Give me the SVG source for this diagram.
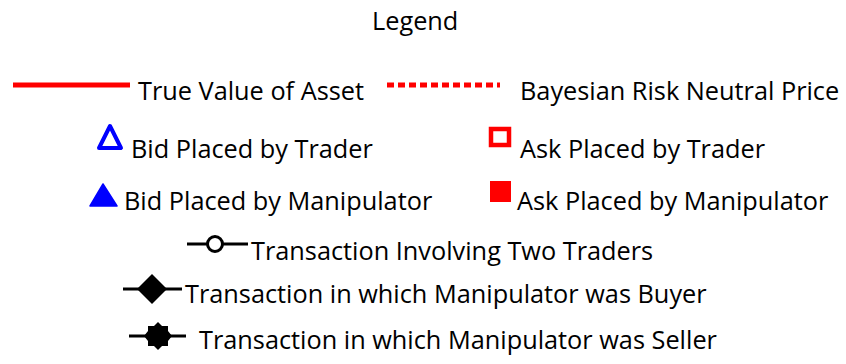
<svg xmlns="http://www.w3.org/2000/svg" width="846" height="364" viewBox="0 0 846 364">
<style>
text{font-family:"Open Sans","DejaVu Sans",sans-serif;font-size:25.3px;fill:#000}
.ln{stroke:#000;stroke-width:3;fill:none}
</style>
<rect width="846" height="364" fill="#fff"/>
<g id="title"><text x="372" y="30">Legend</text></g>
<g id="connectors">
<line x1="13" y1="85" x2="130" y2="85" stroke="#f00" stroke-width="5"/>
<line x1="387" y1="85" x2="500" y2="85" stroke="#f00" stroke-width="5" stroke-dasharray="7,4"/>
<line class="ln" x1="187" y1="244" x2="248" y2="244"/>
<line class="ln" x1="123" y1="289" x2="182" y2="289"/>
<line class="ln" x1="129" y1="336" x2="186" y2="336"/>
</g>
<g id="true-value"><text x="138" y="100">True Value of Asset</text></g>
<g id="bayesian"><text x="520" y="100">Bayesian Risk Neutral Price</text></g>
<g id="bid-trader">
<polygon points="110,126 121,148 99,148" fill="#fff" stroke="#00f" stroke-width="4" stroke-linejoin="round"/>
<text x="131" y="158">Bid Placed by Trader</text>
</g>
<g id="ask-trader">
<rect x="491" y="129" width="18" height="16" fill="#fff" stroke="#f00" stroke-width="4.5"/>
<text x="520" y="158">Ask Placed by Trader</text>
</g>
<g id="bid-manipulator">
<polygon points="103,184 117,206 90,206" fill="#00f" stroke="#00f" stroke-width="1.5" stroke-linejoin="round"/>
<text x="124" y="210">Bid Placed by Manipulator</text>
</g>
<g id="ask-manipulator">
<rect x="490" y="181" width="21" height="21" fill="#f00"/>
<text x="517" y="210">Ask Placed by Manipulator</text>
</g>
<g id="tx-traders">
<circle cx="215" cy="244" r="7.5" fill="#fff" stroke="#000" stroke-width="3"/>
<text x="251" y="260">Transaction Involving Two Traders</text>
</g>
<g id="tx-buyer">
<polygon points="152,274 167,289 152,304 137,289" fill="#000"/>
<text x="185" y="303">Transaction in which Manipulator was Buyer</text>
</g>
<g id="tx-seller">
<polygon points="158,322 162,326 168,326 168,331 172,336 168,341 168,346 162,346 158,350 154,346 148,346 148,341 144,336 148,331 148,326 154,326" fill="#000"/>
<text x="199" y="349">Transaction in which Manipulator was Seller</text>
</g>
</svg>
